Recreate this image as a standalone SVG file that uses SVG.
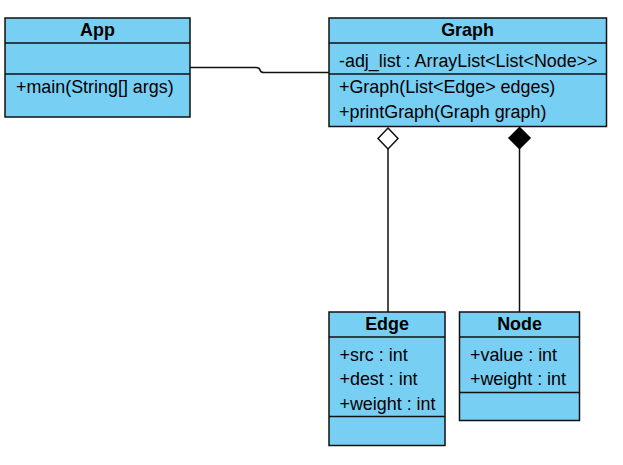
<svg xmlns="http://www.w3.org/2000/svg" width="623" height="465" viewBox="0 0 623 465">
<style>
.box{fill:#78CFF4;stroke:#111;stroke-width:1.5}
.div{stroke:#111;stroke-width:1.5;fill:none}
.t{font-family:"Liberation Sans",Arial,sans-serif;font-size:17.9px;fill:#000}
.h{font-family:"Liberation Sans",Arial,sans-serif;font-size:17.9px;font-weight:bold;fill:#000;text-anchor:middle}
.ln{stroke:#111;stroke-width:1.5;fill:none}
</style>
<rect width="623" height="465" fill="#fff"/>
<g id="connectors">
<path class="ln" d="M190,67.5 L256,67.5 Q259.5,67.5 260,70 Q260.5,72.5 264,72.5 L329,72.5"/>
<path class="ln" d="M388,149 L388,312"/>
<path d="M388,128 L398,138.5 L388,149 L378,138.5 Z" fill="#fff" stroke="#111" stroke-width="1.5"/>
<path class="ln" d="M519.5,148 L519.5,312"/>
<path d="M519.5,127.5 L530,138 L519.5,148.5 L509,138 Z" fill="#000" stroke="#000" stroke-width="1.5"/>
</g>
<g id="App">
<rect class="box" x="5" y="18" width="185" height="99"/>
<path class="div" d="M5,43 H190 M5,74 H190"/>
<text class="h" x="97.5" y="36">App</text>
<text class="t" x="16" y="93">+main(String[] args)</text>
</g>
<g id="Graph">
<rect class="box" x="329" y="18" width="277.5" height="108.5"/>
<path class="div" d="M329,43 H606.5 M329,74 H606.5"/>
<text class="h" x="467.5" y="36">Graph</text>
<text class="t" x="339" y="66.5">-adj_list : ArrayList&lt;List&lt;Node&gt;&gt;</text>
<text class="t" x="339" y="93">+Graph(List&lt;Edge&gt; edges)</text>
<text class="t" x="339" y="118">+printGraph(Graph graph)</text>
</g>
<g id="Edge">
<rect class="box" x="329" y="312" width="116" height="133.5"/>
<path class="div" d="M329,337 H445 M329,416.5 H445"/>
<text class="h" x="387" y="329.5">Edge</text>
<text class="t" x="339.5" y="360.5">+src : int</text>
<text class="t" x="339.5" y="385">+dest : int</text>
<text class="t" x="339.5" y="409.5">+weight : int</text>
</g>
<g id="Node">
<rect class="box" x="459.5" y="312" width="120" height="108.5"/>
<path class="div" d="M459.5,337 H579.5 M459.5,392.5 H579.5"/>
<text class="h" x="519.5" y="329.5">Node</text>
<text class="t" x="470" y="360.5">+value : int</text>
<text class="t" x="470" y="385">+weight : int</text>
</g>
</svg>
